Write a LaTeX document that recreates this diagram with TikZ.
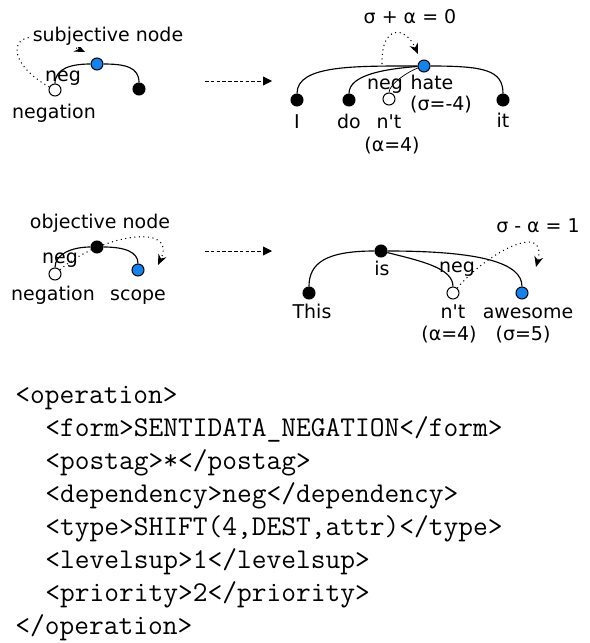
\documentclass[tikz,border=0pt]{standalone}
\usepackage{fontspec}
\setmainfont{DejaVu Sans}
\usetikzlibrary{arrows.meta}
\definecolor{bluenodo}{RGB}{16,132,240}

\begin{document}
\begin{tikzpicture}[
  x=0.02cm, y=-0.02cm,
  font=\fontsize{10.8}{13}\selectfont,
  nodo/.style={circle, draw=black, line width=0.6pt, minimum size=0.24cm, inner sep=0pt},
  pieno/.style={nodo, fill=black},
  vuoto/.style={nodo, fill=white},
  blu/.style={nodo, fill=bluenodo},
  arco/.style={draw=black, line width=0.65pt},
  puntinato/.style={draw=black, line width=0.6pt, dotted, -{Stealth[length=6pt, width=5pt]}},
  freccia/.style={draw=black, line width=0.5pt, dash pattern=on 2pt off 1.3pt, -{Triangle[length=5pt, width=5pt]}},
  etichetta/.style={anchor=base, inner sep=0pt},
  codice/.style={anchor=base west, inner sep=0pt, font=\fontsize{16.3}{19}\ttfamily}
]
\useasboundingbox (0,0) rectangle (589,643);

% ---- nodo soggettivo: schema ------------------------------------------
\node[vuoto] (negA) at (55,90) {};
\node[blu] (sogA) at (97,64) {};
\node[pieno] (altA) at (139,89) {};
\draw[arco] (negA) .. controls +(0,-22) and +(-25,0) .. (sogA);
\draw[arco] (sogA) .. controls +(28,0) and +(0,-22) .. (altA);
\coordinate (puntaA) at (85,52);
\draw[puntinato] (negA) .. controls (0,60) and (5,15) .. (puntaA);
\node[etichetta, fill=white, inner sep=1pt] (subj) at (108,41) {subjective node};
\node[etichetta] (negLA) at (63,81) {neg};
\node[etichetta] (negationA) at (54,118) {negation};

% ---- nodo soggettivo: esempio ------------------------------------------
\node[pieno] (I) at (297,100) {};
\node[pieno] (do) at (349,100) {};
\node[vuoto] (nt) at (389,99) {};
\node[blu] (hate) at (424,66) {};
\node[pieno] (it) at (503,100) {};
\draw[arco] (I) .. controls +(0,-35) and +(-70,0) .. (hate);
\draw[arco] (do) .. controls +(0,-25) and +(-40,3) .. (hate);
\draw[arco, line width=0.4pt] (nt) .. controls +(0,-15) and +(-15,5) .. (hate);
\draw[arco] (hate) .. controls +(60,0) and +(0,-30) .. (it);
\coordinate (origineB) at (382,64);
\coordinate (puntaB) at (418,54);
\draw[puntinato] (origineB) .. controls (381,25) and (405,25) .. (puntaB);
\node[etichetta] (somma) at (410,23) {σ + α = 0};
\node[etichetta] (negLB) at (385,89) {neg};
\node[etichetta] (hateL) at (432,89) {hate};
\node[etichetta] (sigmaB) at (441,110) {(σ=-4)};
\node[etichetta] (IL) at (297,128) {I};
\node[etichetta] (doL) at (349,128) {do};
\node[etichetta] (ntL) at (389,128) {n\textquotesingle t};
\node[etichetta] (alfaB) at (392,151) {(α=4)};
\node[etichetta] (itL) at (503,127) {it};

% ---- nodo oggettivo: schema -------------------------------------------
\node[vuoto] (negC) at (55,274) {};
\node[pieno] (oggC) at (97,247) {};
\node[blu] (scopoC) at (138,270) {};
\draw[arco] (negC) .. controls +(0,-20) and +(-25,0) .. (oggC);
\draw[arco] (oggC) .. controls +(28,0) and +(0,-18) .. (scopoC);
\coordinate (puntaC) at (158,265);
\draw[puntinato] (negC) .. controls (100,235) and (178,222) .. (puntaC);
\node[etichetta] (obj) at (100,228) {objective node};
\node[etichetta] (negLC) at (60,263) {neg};
\node[etichetta] (negationC) at (53,300) {negation};
\node[etichetta] (scopeL) at (138,300) {scope};

% ---- nodo oggettivo: esempio -------------------------------------------
\node[pieno] (is) at (381,251) {};
\node[pieno] (This) at (309,293) {};
\node[vuoto] (ntD) at (453,293) {};
\node[blu] (awesome) at (522,293) {};
\draw[arco] (is) .. controls +(-55,0) and +(0,-30) .. (This);
\draw[arco] (is) .. controls +(40,10) and +(0,-25) .. (ntD);
\draw[arco] (is) .. controls +(100,0) and +(0,-30) .. (awesome);
\coordinate (puntaD) at (536,267);
\draw[puntinato] (ntD) .. controls (490,250) and (548,222) .. (puntaD);
\node[etichetta] (diff) at (538,232) {σ - α = 1};
\node[etichetta] (isL) at (382,275) {is};
\node[etichetta] (negLD) at (457,272) {neg};
\node[etichetta] (ThisL) at (312,318) {This};
\node[etichetta] (ntLD) at (453,318) {n\textquotesingle t};
\node[etichetta] (awesomeL) at (528,318) {awesome};
\node[etichetta] (alfaD) at (449,340) {(α=4)};
\node[etichetta] (sigmaD) at (523,340) {(σ=5)};

% ---- frecce di passaggio -------------------------------------------------
\coordinate (daA) at (205,81);
\coordinate (aA) at (272,81);
\coordinate (daC) at (205,251);
\coordinate (aC) at (272,251);
\draw[freccia] (daA) -- (aA);
\draw[freccia] (daC) -- (aC);

% ---- regola XML ----------------------------------------------------------
\foreach \riga/\x [count=\i] in {
  {<operation>}/15,
  {<form>SENTIDATA\_NEGATION</form>}/45,
  {<postag>*</postag>}/45,
  {<dependency>neg</dependency>}/45,
  {<type>SHIFT(4,DEST,attr)</type>}/45,
  {<levelsup>1</levelsup>}/45,
  {<priority>2</priority>}/45,
  {</operation>}/15} {
  \node[codice] (xml\i) at (\x,{403+33*(\i-1)}) {\riga};
}

\end{tikzpicture}
\end{document}
